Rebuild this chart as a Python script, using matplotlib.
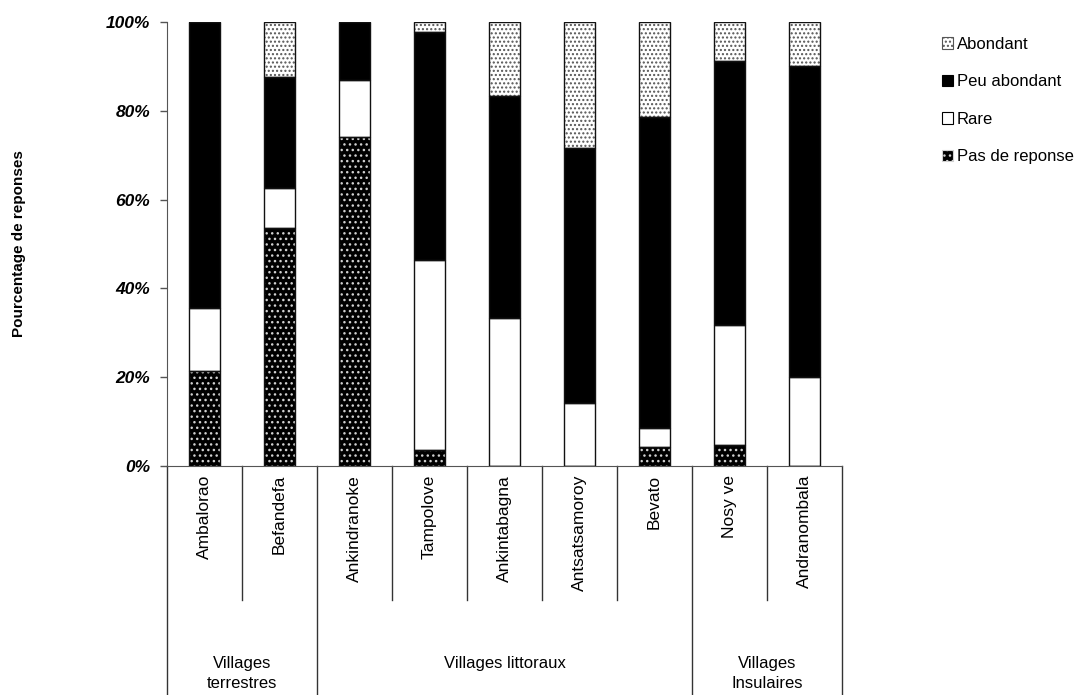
import matplotlib
matplotlib.use("Agg")
import matplotlib.pyplot as plt
import matplotlib.transforms as mtransforms
from matplotlib.patches import Patch
import numpy as np

plt.rcParams['font.family'] = ['Liberation Sans', 'DejaVu Sans']
plt.rcParams['hatch.linewidth'] = 1.0

villages = ["Ambalorao", "Befandefa", "Ankindranoke", "Tampolove", "Ankintabagna",
            "Antsatsamoroy", "Bevato", "Nosy ve", "Andranombala"]
groups = ["Villages\nterrestres", "Villages littoraux", "Villages\nInsulaires"]
group_sizes = [2, 5, 2]

pas_de_reponse = [21.4, 53.6, 74.1, 3.6, 0.0, 0.0, 4.3, 4.7, 0.0]
rare = [14.2, 9.0, 12.8, 42.8, 33.3, 14.2, 4.3, 27.1, 20.0]
peu_abondant = [64.4, 25.0, 13.1, 51.3, 50.0, 57.4, 70.0, 59.4, 70.0]
abondant = [0.0, 12.4, 0.0, 2.3, 16.7, 28.4, 21.4, 8.8, 10.0]

yticks = [0, 20, 40, 60, 80, 100]
ytick_labels = ["0%", "20%", "40%", "60%", "80%", "100%"]

fig = plt.figure(figsize=(10.77, 6.95), dpi=100)
ax = fig.add_axes([167/1077, 1-466/695, (842-167)/1077, (466-22)/695])

x = np.arange(len(villages))
w = 0.42

series = [
    ("Pas de reponse", pas_de_reponse, "#000000", "#d0d0d0", "..."),
    ("Rare", rare, "#ffffff", None, None),
    ("Peu abondant", peu_abondant, "#000000", None, None),
    ("Abondant", abondant, "#ffffff", "#555555", "...."),
]

bottom = np.zeros(len(villages))
handles = []
for name, vals, face, hcol, hatch in series:
    vals = np.array(vals)
    if hatch:
        ax.bar(x, vals, w, bottom=bottom, color=face, edgecolor=hcol, hatch=hatch, linewidth=0, zorder=2)
    else:
        ax.bar(x, vals, w, bottom=bottom, color=face, linewidth=0, zorder=2)
    ax.bar(x, vals, w, bottom=bottom, fill=False, edgecolor="#111111", linewidth=1.0, zorder=3)
    handles.append(Patch(facecolor=face, edgecolor=hcol if hcol else "#000000", hatch=hatch, linewidth=0.8,
                         label=name))
    bottom += vals

ax.set_xlim(-0.5, len(villages) - 0.5)
ax.set_ylim(0, 100)
ax.set_yticks(yticks)
ax.set_yticklabels(ytick_labels, fontsize=12.5, fontweight='bold', fontstyle='italic')
ax.tick_params(axis='y', direction='out', length=5, width=1, color='#555555', pad=7)
ax.set_xticks([])
for s in ['top', 'right']:
    ax.spines[s].set_visible(False)
ax.spines['left'].set_color('#555555')
ax.spines['bottom'].set_color('#555555')
ax.set_ylabel("Pourcentage de reponses", fontsize=11, fontweight='bold')
ax.yaxis.label.set_va('center')
ax.yaxis.set_label_coords((19 - 167) / 675, 0.5)

trans = mtransforms.blended_transform_factory(ax.transData, ax.transAxes)
bounds = np.arange(len(villages) + 1) - 0.5
group_bounds = [-0.5]
for gs in group_sizes:
    group_bounds.append(group_bounds[-1] + gs)
for b in bounds:
    if b in group_bounds:
        ax.plot([b, b], [0, -0.55], transform=trans, color='#333333', lw=1, clip_on=False)
    else:
        ax.plot([b, b], [0, -0.302], transform=trans, color='#333333', lw=1, clip_on=False)

for xi, name in zip(x, villages):
    ax.text(xi, -0.02, name, transform=trans, rotation=90, ha='center', va='top', fontsize=12.5)

for i, g in enumerate(groups):
    c = (group_bounds[i] + group_bounds[i + 1]) / 2
    ax.text(c, -0.428, g, transform=trans, ha='center', va='top', fontsize=12, linespacing=1.45)

leg = fig.legend(handles=handles[::-1], loc='upper left', bbox_to_anchor=(935/1077, 1-30/695),
                 frameon=False, fontsize=12, handlelength=0.7, handleheight=0.7,
                 handletextpad=0.2, labelspacing=1.35, borderaxespad=0)

fig.savefig("out.png", dpi=100)
